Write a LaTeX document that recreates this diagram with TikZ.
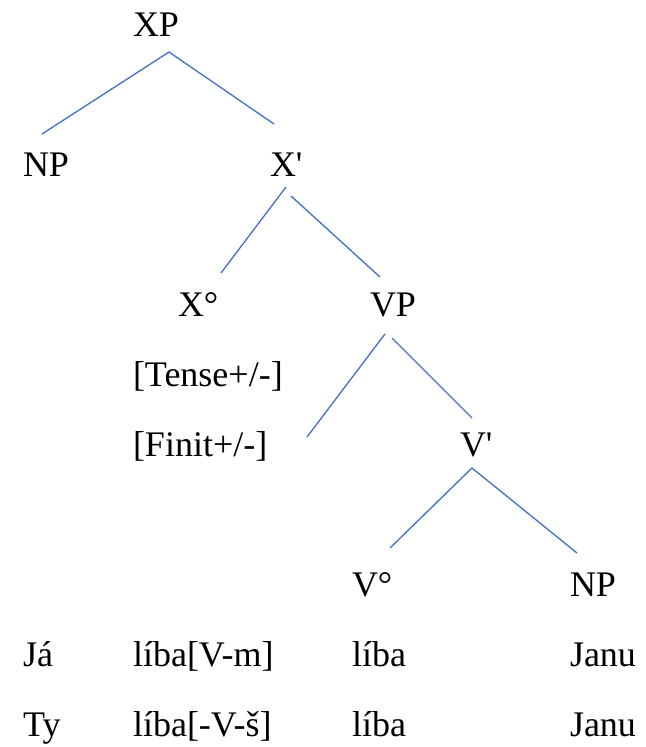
\documentclass[tikz,border=0pt]{standalone}
\usepackage{fontspec}
\setmainfont{Liberation Serif}[Ligatures=TeXOff]
\definecolor{branchblue}{HTML}{4472C4}
\begin{document}
\begin{tikzpicture}[x=0.75pt,y=-0.75pt,
  lbl/.style={anchor=base west,inner sep=0pt,outer sep=0pt,font=\fontsize{27}{32}\selectfont},
  branch/.style={draw=branchblue,line width=1pt}]
\useasboundingbox (0,0) rectangle (646,747);
% labels
\node[lbl] (XP) at (133,36) {XP};
\node[lbl] (NPa) at (23,176) {NP};
\node[lbl] (Xbar) at (270,176) {X'};
\node[lbl] (Xdeg) at (178,316) {X°};
\node[lbl] (VP) at (370,316) {VP};
\node[lbl] (tense) at (133,386) {[Tense+/-]};
\node[lbl] (finit) at (133,456) {[Finit+/-]};
\node[lbl] (Vbar) at (460,456) {V'};
\node[lbl] (Vdeg) at (352,596) {V°};
\node[lbl] (NPb) at (570,596) {NP};
\node[lbl] (ja) at (23,666) {Já};
\node[lbl] (libaA) at (133,666) {líba[V-m]};
\node[lbl] (libaB) at (352,666) {líba};
\node[lbl] (januA) at (570,666) {Janu};
\node[lbl] (ty) at (23,736) {Ty};
\node[lbl] (libaC) at (133,736) {líba[-V-š]};
\node[lbl] (libaD) at (352,736) {líba};
\node[lbl] (januB) at (570,736) {Janu};
% branch end points
\coordinate (xp-b) at (169,52);
\coordinate (npa-t) at (42,134);
\coordinate (xbar-t) at (274,124);
\coordinate (xbar-bl) at (286,187);
\coordinate (xbar-br) at (291,196);
\coordinate (xdeg-t) at (221,273);
\coordinate (vp-t) at (380,277);
\coordinate (vp-bl) at (385,334);
\coordinate (vp-free) at (307,437);
\coordinate (vp-br) at (392,338);
\coordinate (vbar-t) at (472,418);
\coordinate (vbar-b) at (472,468);
\coordinate (vdeg-t) at (390,548);
\coordinate (npb-t) at (577,553);
% branches
\draw[branch] (npa-t) -- (xp-b) -- (xbar-t);
\draw[branch] (xbar-bl) -- (xdeg-t);
\draw[branch] (xbar-br) -- (vp-t);
\draw[branch] (vp-bl) -- (vp-free);
\draw[branch] (vp-br) -- (vbar-t);
\draw[branch] (vdeg-t) -- (vbar-b) -- (npb-t);
\end{tikzpicture}
\end{document}
